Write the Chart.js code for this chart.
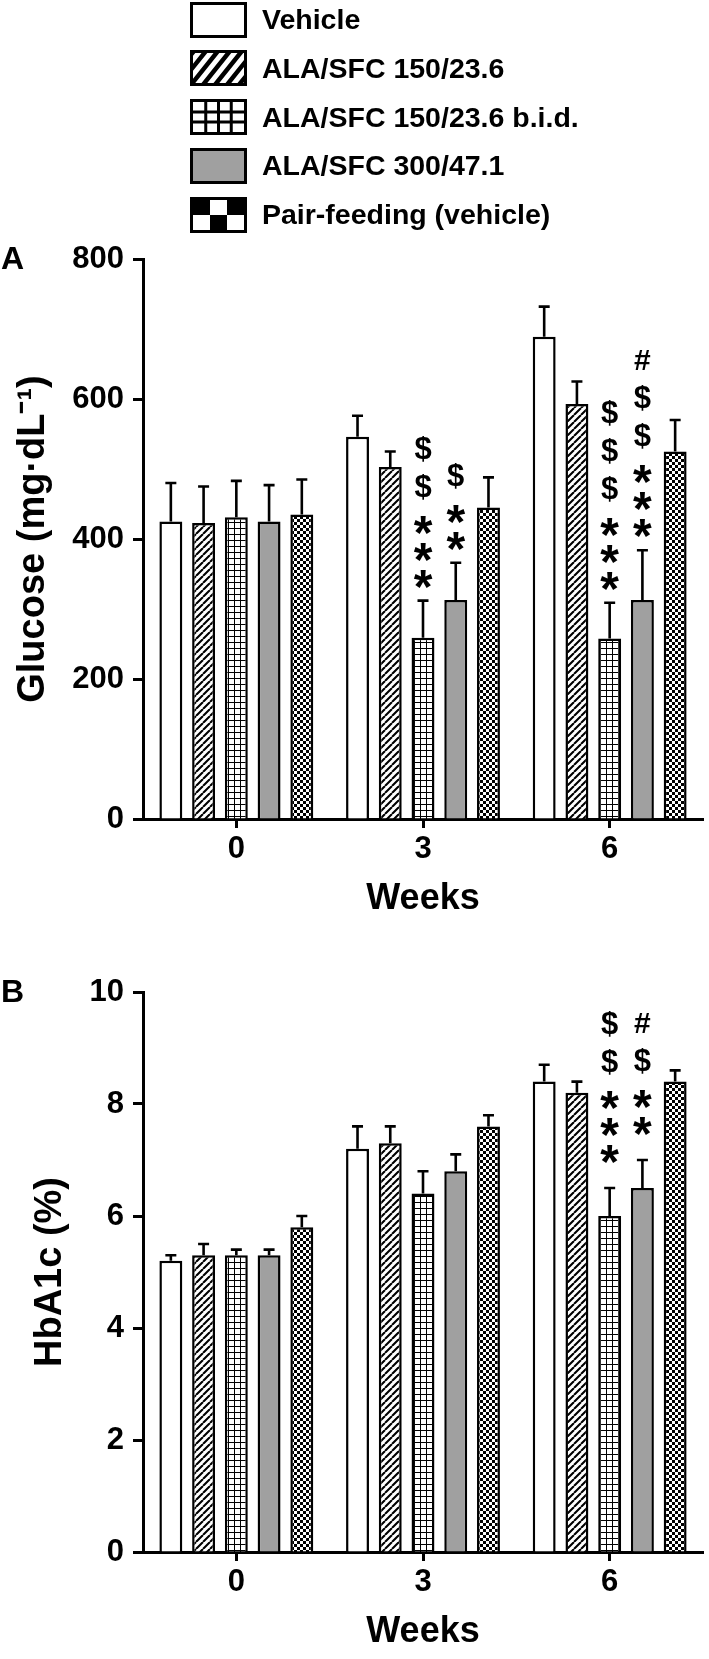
<!DOCTYPE html>
<html>
<head>
<meta charset="utf-8">
<script src="https://cdn.jsdelivr.net/npm/chart.js@4.4.1/dist/chart.umd.min.js"></script>
<style>
  html, body { margin: 0; padding: 0; background: #fff; }
  body { width: 709px; height: 1659px; position: relative; overflow: hidden;
         font-family: "Liberation Sans", Arial, sans-serif; }
  #legend { position: absolute; left: 190px; top: 2px; }
  #legend .li { display: flex; align-items: center; height: 35px; margin-bottom: 13.75px;
                font-weight: bold; font-size: 28.5px; color: #000; white-space: nowrap; }
  #legend canvas { margin-right: 15px; display: block; }
  .panel { position: absolute; left: 0; width: 709px; }
  #panelA { top: 240px; height: 686px; }
  #panelB { top: 926px; height: 733px; }
</style>
</head>
<body>
<div id="legend"></div>
<div class="panel" id="panelA"><canvas id="chartA" width="709" height="686"></canvas></div>
<div class="panel" id="panelB"><canvas id="chartB" width="709" height="733"></canvas></div>
<script>
/* ---------- data ---------- */
var weeks = ['0', '3', '6'];
var seriesNames = ['Vehicle', 'ALA/SFC 150/23.6', 'ALA/SFC 150/23.6 b.i.d.', 'ALA/SFC 300/47.1', 'Pair-feeding (vehicle)'];
var glucoseTicks = [0, 200, 400, 600, 800];
var hba1cTicks = [0, 2, 4, 6, 8, 10];

// A: glucose mg/dL, mean + SEM
var glucoseVehicle = [425, 546, 689];
var glucoseVehicleErr = [55, 30, 43];
var glucose150 = [423, 503, 593];
var glucose150Err = [52, 22, 32];
var glucose150bid = [431, 259, 258];
var glucose150bidErr = [52, 53, 51];
var glucose300 = [425, 313, 313];
var glucose300Err = [52, 53, 71];
var glucosePair = [435, 445, 525];
var glucosePairErr = [50, 43, 45];

// B: HbA1c %, mean + SEM
var hba1cVehicle = [5.2, 7.2, 8.4];
var hba1cVehicleErr = [0.1, 0.4, 0.3];
var hba1c150 = [5.3, 7.3, 8.2];
var hba1c150Err = [0.2, 0.3, 0.2];
var hba1c150bid = [5.3, 6.4, 6.0];
var hba1c150bidErr = [0.1, 0.4, 0.5];
var hba1c300 = [5.3, 6.8, 6.5];
var hba1c300Err = [0.1, 0.3, 0.5];
var hba1cPair = [5.8, 7.6, 8.4];
var hba1cPairErr = [0.2, 0.2, 0.2];

// significance marks, stacked bottom -> top above the error bar
var glucoseMarksBid = ['', '***$$', '***$$$'];
var glucoseMarks300 = ['', '**$', '***$$#'];
var hba1cMarksBid = ['', '', '***$$'];
var hba1cMarks300 = ['', '', '**$#'];

/* ---------- fills ---------- */
var FONT = '"Liberation Sans", Arial, sans-serif';
var GRAY = '#a0a0a0';

function tile(w, h, draw) {
  var c = document.createElement('canvas'); c.width = w; c.height = h;
  var g = c.getContext('2d'); g.fillStyle = '#fff'; g.fillRect(0, 0, w, h);
  draw(g);
  return c;
}
function hatchTile(size, lw) {
  return tile(size, size, function (g) {
    g.strokeStyle = '#000'; g.lineWidth = lw; g.beginPath();
    [-size, 0, size].forEach(function (k) { g.moveTo(k, size); g.lineTo(k + size, 0); });
    g.stroke();
  });
}
function gridTile(size) {
  return tile(size, size, function (g) {
    g.fillStyle = '#000'; g.fillRect(0, 0, size, 1); g.fillRect(0, 0, 1, size);
  });
}
function checkTile(cell) {
  return tile(cell * 2, cell * 2, function (g) {
    g.fillStyle = '#000'; g.fillRect(0, 0, cell, cell); g.fillRect(cell, cell, cell, cell);
  });
}
var pctx = document.createElement('canvas').getContext('2d');
var barFills = [
  '#fff',
  pctx.createPattern(hatchTile(7, 2.1), 'repeat'),
  pctx.createPattern(gridTile(6), 'repeat'),
  GRAY,
  pctx.createPattern(checkTile(3), 'repeat')
];

/* ---------- html legend (big swatches like the figure) ---------- */
function drawSwatch(c, kind) {
  var g = c.getContext('2d'), w = c.width, h = c.height, b = 3;
  g.fillStyle = '#fff'; g.fillRect(0, 0, w, h);
  g.save(); g.beginPath(); g.rect(b, b, w - 2 * b, h - 2 * b); g.clip();
  if (kind === 1) {
    g.strokeStyle = '#000'; g.lineWidth = 4.5; g.beginPath();
    for (var k = -h; k < w + h; k += 12) { g.moveTo(k, h); g.lineTo(k + h * 0.8, 0); }
    g.stroke();
  } else if (kind === 2) {
    g.fillStyle = '#000';
    for (var i = 1; i < 4; i++) g.fillRect(b + i * (w - 2 * b) / 4 - 1.5, 0, 3, h);
    for (var j = 1; j < 3; j++) g.fillRect(0, b + j * (h - 2 * b) / 3 - 1.5, w, 3);
  } else if (kind === 3) {
    g.fillStyle = GRAY; g.fillRect(0, 0, w, h);
  } else if (kind === 4) {
    g.fillStyle = '#000';
    var cw = (w - 2 * b) / 3, ch = (h - 2 * b) / 2;
    for (var r = 0; r < 2; r++) for (var q = 0; q < 3; q++)
      if ((r + q) % 2 === 0) g.fillRect(b + q * cw, b + r * ch, cw, ch);
  }
  g.restore();
  g.strokeStyle = '#000'; g.lineWidth = b; g.strokeRect(b / 2, b / 2, w - b, h - b);
}
var legendEl = document.getElementById('legend');
seriesNames.forEach(function (name, i) {
  var row = document.createElement('div'); row.className = 'li';
  var sw = document.createElement('canvas'); sw.width = 57; sw.height = 36;
  drawSwatch(sw, i);
  row.appendChild(sw);
  row.appendChild(document.createTextNode(name));
  legendEl.appendChild(row);
});

/* ---------- plugins ---------- */
var errorBars = {
  id: 'errorBars',
  afterDatasetsDraw: function (chart) {
    var ctx = chart.ctx, ys = chart.scales.y;
    ctx.save(); ctx.strokeStyle = '#000'; ctx.lineWidth = 2.6; ctx.lineCap = 'butt';
    chart.data.datasets.forEach(function (ds, i) {
      chart.getDatasetMeta(i).data.forEach(function (bar, j) {
        var top = ys.getPixelForValue(ds.data[j] + ds.errors[j]);
        ctx.beginPath();
        ctx.moveTo(bar.x, bar.y); ctx.lineTo(bar.x, top);
        ctx.moveTo(bar.x - 5.5, top); ctx.lineTo(bar.x + 5.5, top);
        ctx.stroke();
      });
    });
    ctx.restore();
  }
};

var sigMarks = {
  id: 'sigMarks',
  afterDatasetsDraw: function (chart, args, opts) {
    var ctx = chart.ctx, ys = chart.scales.y;
    ctx.save(); ctx.fillStyle = '#000'; ctx.textAlign = 'center'; ctx.textBaseline = 'alphabetic';
    Object.keys(opts.marks || {}).forEach(function (key) {
      var i = +key, ds = chart.data.datasets[i], meta = chart.getDatasetMeta(i);
      opts.marks[key].forEach(function (str, j) {
        if (!str) return;
        var bar = meta.data[j];
        var y = ys.getPixelForValue(ds.data[j] + ds.errors[j]) - opts.gap;
        for (var n = 0; n < str.length; n++) {
          var ch = str[n];
          if (n > 0) y -= (ch === '*' && str[n - 1] === '*') ? 27 : 38;
          ctx.font = 'bold ' + (ch === '*' ? 48 : ch === '$' ? 31 : 30) + 'px ' + FONT;
          var m = ctx.measureText(ch);
          var mid = (m.actualBoundingBoxAscent - m.actualBoundingBoxDescent) / 2;
          ctx.fillText(ch, bar.x, y + mid);
        }
      });
    });
    ctx.restore();
  }
};

var panelLetter = {
  id: 'panelLetter',
  afterDraw: function (chart, args, opts) {
    var ctx = chart.ctx;
    ctx.save(); ctx.fillStyle = '#000'; ctx.font = 'bold 32px ' + FONT;
    ctx.textAlign = 'left'; ctx.textBaseline = 'middle';
    ctx.fillText(opts.text, 1, chart.chartArea.top + 1);
    ctx.restore();
  }
};

/* ---------- charts ---------- */
Chart.defaults.color = '#000';
Chart.defaults.font.family = FONT;
Chart.defaults.font.weight = 'bold';

function datasets(vals, errs) {
  return vals.map(function (v, i) {
    return { label: seriesNames[i], data: v, errors: errs[i], backgroundColor: barFills[i],
             borderColor: '#000', borderWidth: 2.5, borderSkipped: 'start',
             categoryPercentage: 0.877, barPercentage: 0.70 };
  });
}

function panel(el, o) {
  return new Chart(el, {
    type: 'bar',
    data: { labels: weeks, datasets: datasets(o.vals, o.errs) },
    plugins: [errorBars, sigMarks, panelLetter],
    options: {
      responsive: false, animation: false,
      layout: { padding: { top: o.top, right: 6, left: 0, bottom: 0 } },
      plugins: {
        legend: { display: false }, tooltip: { enabled: false },
        sigMarks: { marks: o.marks, gap: o.gap },
        panelLetter: { text: o.letter }
      },
      scales: {
        x: {
          grid: { offset: false, drawOnChartArea: false, tickLength: 9, tickWidth: 3, tickColor: '#000' },
          border: { color: '#000', width: 3 },
          ticks: { font: { size: 31, weight: 'bold' }, padding: 3 },
          title: { display: true, text: 'Weeks', font: { size: 36, weight: 'bold' }, padding: { top: 0, bottom: 5 } },
          afterFit: function (s) { s.height = 107; }
        },
        y: {
          min: 0, max: o.ticks[o.ticks.length - 1],
          afterBuildTicks: function (s) { s.ticks = o.ticks.map(function (v) { return { value: v }; }); },
          grid: { drawOnChartArea: false, tickLength: 10, tickWidth: 3, tickColor: '#000' },
          border: { color: '#000', width: 3 },
          ticks: { font: { size: 31, weight: 'bold' }, padding: 9 },
          title: { display: true, text: o.yTitle, font: { size: 38, weight: 'bold' }, padding: { top: o.titlePad, bottom: 0 } },
          afterFit: function (s) { s.width = 143; s.paddingTop = 0; s.paddingBottom = 0; }
        }
      }
    }
  });
}

panel(document.getElementById('chartA'), {
  letter: 'A', top: 19, gap: 22, titlePad: 11, ticks: glucoseTicks,
  yTitle: 'Glucose (mg·dL⁻¹)',
  vals: [glucoseVehicle, glucose150, glucose150bid, glucose300, glucosePair],
  errs: [glucoseVehicleErr, glucose150Err, glucose150bidErr, glucose300Err, glucosePairErr],
  marks: { 2: glucoseMarksBid, 3: glucoseMarks300 }
});
panel(document.getElementById('chartB'), {
  letter: 'B', top: 66, gap: 34, titlePad: 28, ticks: hba1cTicks,
  yTitle: 'HbA1c (%)',
  vals: [hba1cVehicle, hba1c150, hba1c150bid, hba1c300, hba1cPair],
  errs: [hba1cVehicleErr, hba1c150Err, hba1c150bidErr, hba1c300Err, hba1cPairErr],
  marks: { 2: hba1cMarksBid, 3: hba1cMarks300 }
});
</script>
</body>
</html>
